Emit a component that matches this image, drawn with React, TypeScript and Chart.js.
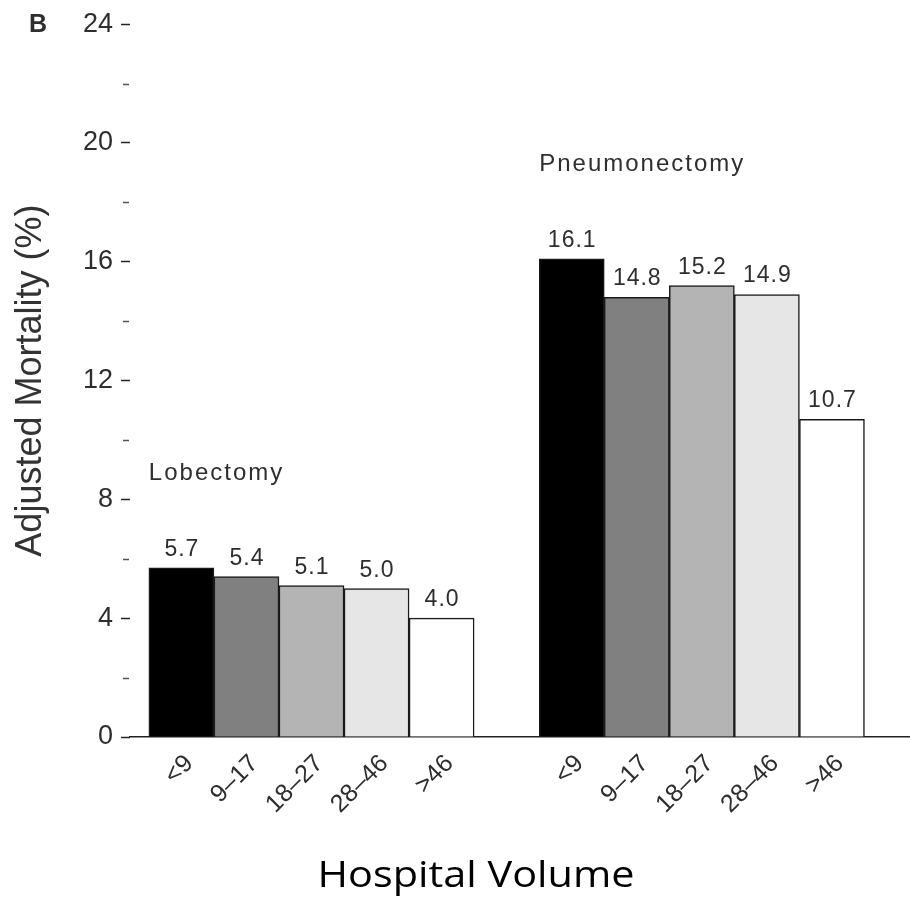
import React, { useEffect, useRef } from 'react';
import { Chart, registerables } from 'chart.js';

Chart.register(...registerables);

// ---- data ----
const categories = ['<9', '9–17', '18–27', '28–46', '>46'];
const groupNames = ['Lobectomy', 'Pneumonectomy'];
const lobectomy = [5.7, 5.4, 5.1, 5.0, 4.0];
const pneumonectomy = [16.1, 14.8, 15.2, 14.9, 10.7];
const barColors = ['#000000', '#808080', '#b4b4b4', '#e6e6e6', '#ffffff'];
const yTickValues = [0, 4, 8, 12, 16, 20, 24];
const panelLetter = 'B';
const xTitle = 'Hospital Volume';
const yTitle = 'Adjusted Mortality (%)';

const SANS = '"Liberation Sans", Arial, Helvetica, sans-serif';
const GROUP_STRIDE = categories.length + 1; // one empty slot between groups

export default function App() {
  const canvasRef = useRef<HTMLCanvasElement | null>(null);

  useEffect(() => {
    const canvas = canvasRef.current;
    if (!canvas) return;

    const series = [lobectomy, pneumonectomy];
    const points: { x: number; y: number }[] = [];
    const colors: string[] = [];
    series.forEach((vals, g) => {
      vals.forEach((v, i) => {
        points.push({ x: g * GROUP_STRIDE + i, y: v });
        colors.push(barColors[i]);
      });
    });
    const tickLabels: string[] = [];
    series.forEach((_, g) => {
      categories.forEach((c) => tickLabels.push(c));
      if (g < series.length - 1) tickLabels.push('');
    });

    const annotPlugin = {
      id: 'annot',
      afterDraw(chart: any) {
        const ctx = chart.ctx as CanvasRenderingContext2D;
        const xs = chart.scales.x;
        const ys = chart.scales.y;
        const area = chart.chartArea;
        const meta = chart.getDatasetMeta(0);
        ctx.save();

        // minor y ticks between labelled ticks
        ctx.strokeStyle = '#555';
        ctx.lineWidth = 1.5;
        for (let i = 0; i < yTickValues.length - 1; i++) {
          const mid = (yTickValues[i] + yTickValues[i + 1]) / 2;
          const py = Math.round(ys.getPixelForValue(mid)) + 0.5;
          ctx.beginPath();
          ctx.moveTo(area.left - 7, py);
          ctx.lineTo(area.left - 1, py);
          ctx.stroke();
        }

        // value labels
        ctx.fillStyle = '#2e2e2e';
        ctx.font = `23px ${SANS}`;
        (ctx as any).letterSpacing = '1px';
        ctx.textAlign = 'center';
        ctx.textBaseline = 'alphabetic';
        meta.data.forEach((bar: any, i: number) => {
          ctx.fillText(points[i].y.toFixed(1), bar.x + 0.5, bar.y - 12);
        });

        // group labels
        const groupLevels = [8.65, 19.07];
        ctx.font = `24px ${SANS}`;
        (ctx as any).letterSpacing = '2px';
        ctx.textAlign = 'left';
        groupNames.forEach((name, g) => {
          const px = xs.getPixelForValue(g * GROUP_STRIDE - 0.5);
          const py = ys.getPixelForValue(groupLevels[g]);
          ctx.fillText(name, px, py);
        });

        // panel letter
        (ctx as any).letterSpacing = '0px';
        ctx.font = `bold 25px ${SANS}`;
        ctx.fillStyle = '#2e2e2e';
        ctx.fillText(panelLetter, 29, 32);

        // x axis title (slightly wide face, as in the original)
        ctx.fillStyle = '#000';
        ctx.font = '36px "Open Sans", Lato, sans-serif';
        ctx.textAlign = 'center';
        ctx.translate(476, 887);
        ctx.scale(1.15, 1);
        ctx.fillText(xTitle, 0, 0);
        ctx.restore();
      },
    };

    const chart = new Chart(canvas, {
      type: 'bar',
      data: {
        datasets: [
          {
            data: points as any,
            backgroundColor: colors,
            borderColor: '#1a1a1a',
            borderWidth: 1.5,
            categoryPercentage: 1,
            barPercentage: 1,
          },
        ],
      },
      options: {
        responsive: false,
        animation: false,
        layout: { padding: { top: 23, right: 0, bottom: 0, left: 0 } },
        plugins: {
          legend: { display: false },
          tooltip: { enabled: false },
        },
        scales: {
          x: {
            type: 'linear',
            min: -0.79,
            max: 11.2,
            offset: false,
            grid: { display: false, drawTicks: false, offset: false },
            border: { display: true, color: '#222', width: 1.5 },
            ticks: {
              stepSize: 1,
              includeBounds: false,
              autoSkip: false,
              minRotation: 45,
              maxRotation: 45,
              padding: 12,
              labelOffset: 8,
              color: '#2e2e2e',
              font: { family: SANS, size: 25 },
              callback: (v: any) =>
                Number.isInteger(v) && v >= 0 && v < tickLabels.length ? tickLabels[v] : '',
            },
            afterFit: (scale: any) => {
              scale.height = 169;
              scale.paddingRight = 0;
              scale.paddingLeft = 0;
            },
          },
          y: {
            min: 0,
            max: 24,
            grid: {
              display: true,
              drawOnChartArea: false,
              drawTicks: true,
              tickLength: 9,
              tickColor: '#222',
              tickWidth: 1.5,
            },
            border: { display: false },
            afterBuildTicks: (scale: any) => {
              scale.ticks = yTickValues.map((v) => ({ value: v }));
            },
            ticks: {
              padding: 8,
              color: '#2e2e2e',
              font: { family: SANS, size: 27 },
            },
            title: {
              display: true,
              text: yTitle,
              color: '#333',
              font: { family: SANS, size: 36 },
              padding: { top: 9, bottom: 0 },
            },
            afterFit: (scale: any) => {
              scale.width = 130;
            },
          },
        },
      },
      plugins: [annotPlugin],
    });

    return () => chart.destroy();
  }, []);

  return (
    <div style={{ position: 'absolute', left: 0, top: 0, width: 910, height: 906, background: '#fff' }}>
      <canvas ref={canvasRef} width={910} height={906} />
    </div>
  );
}
